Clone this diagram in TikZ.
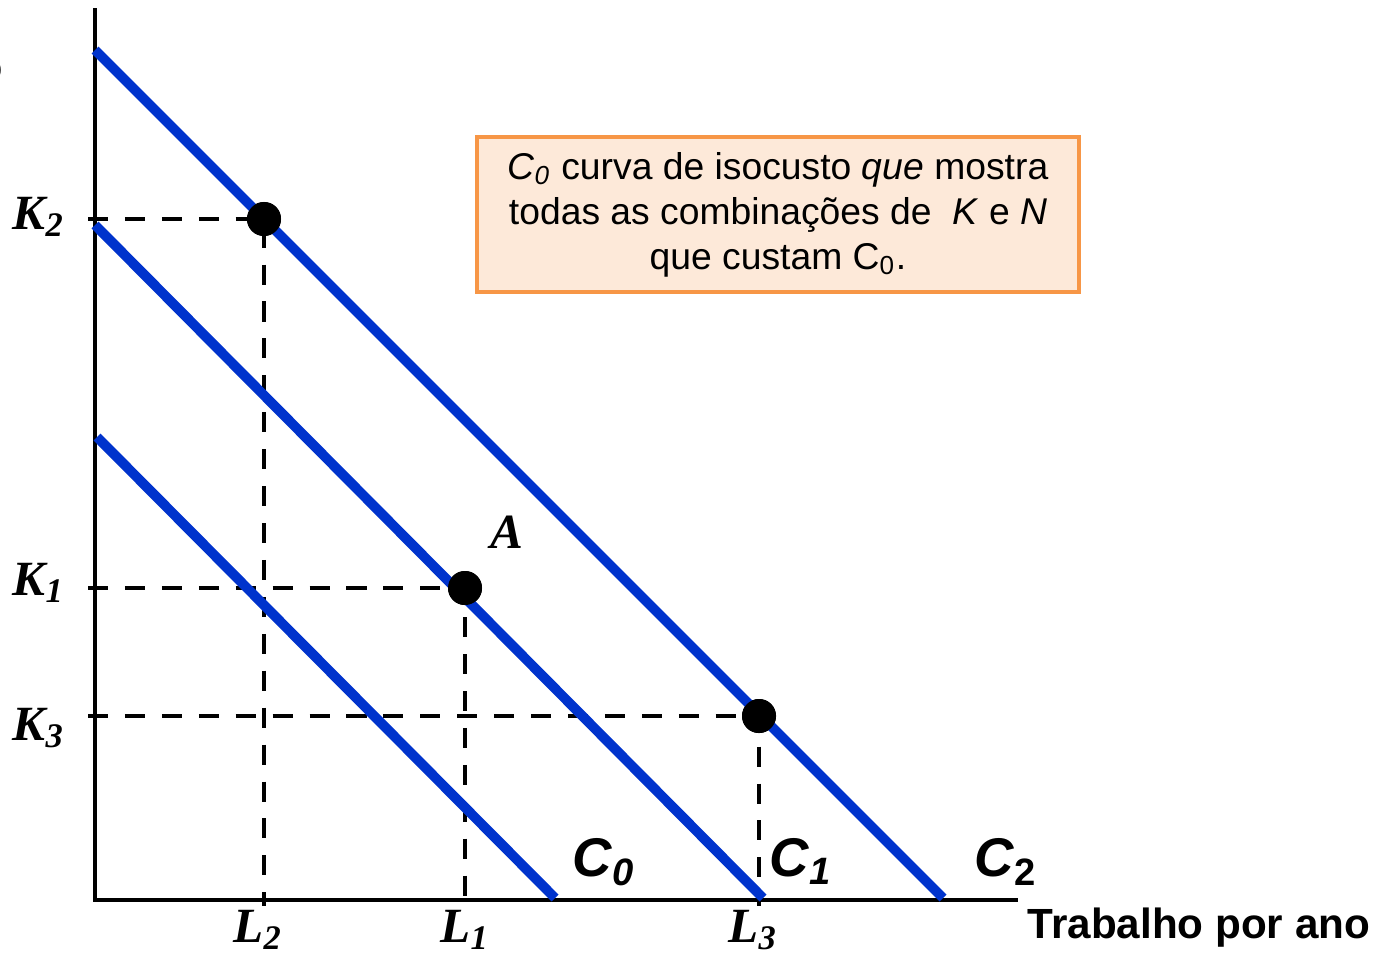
\documentclass[tikz,border=0pt]{standalone}
\usepackage{fontspec}
\setmainfont{Liberation Sans}
\newfontfamily\tms{Liberation Serif}
\definecolor{isoblue}{RGB}{0,51,204}
\definecolor{notefill}{RGB}{253,233,217}
\definecolor{noteline}{RGB}{247,150,70}

\begin{document}
\begin{tikzpicture}[x=0.01cm,y=-0.01cm,
    axis/.style={line width=1.3pt},
    iso/.style={isoblue,line width=2.8pt},
    guide/.style={line width=1.4pt,dash pattern=on 5.7pt off 4.8pt},
    dot/.style={circle,fill=black,inner sep=0pt,minimum size=0.34cm},
    klab/.style={font=\tms\bfseries\itshape\fontsize{14}{14}\selectfont,inner sep=0pt},
    clab/.style={font=\bfseries\itshape\fontsize{15.5}{16}\selectfont,inner sep=0pt}]
    \useasboundingbox (0,0) rectangle (1383,954);

    % axes
    \coordinate (O) at (95,900);
    \coordinate (ytop) at (95,8);
    \coordinate (xend) at (1018,900);
    \coordinate (lbase) at (0,906);
    \draw[axis] (ytop) -- (O) -- (xend);
    \node[anchor=east,inner sep=0pt,font=\bfseries\fontsize{11.8}{14}\selectfont] (ylab) at (4,71) {o};
    \node[anchor=base west,inner sep=0pt,font=\bfseries\fontsize{12}{14}\selectfont] (xlab) at (1027,938) {Trabalho por ano};

    % points and guides
    \node[dot] (P2) at (264,219) {};
    \node[dot] (PA) at (465,588) {};
    \node[dot] (P3) at (759,716) {};
    \coordinate (k2) at (88,219);
    \coordinate (k1) at (88,588);
    \coordinate (k3) at (88,716);
    \draw[guide] (k2) -- (P2.center) -- (P2 |- lbase);
    \draw[guide] (k1) -- (PA.center) -- (PA |- lbase);
    \draw[guide] (k3) -- (P3.center) -- (P3 |- lbase);

    % isocost lines
    \coordinate (c0a) at (97,437);  \coordinate (c0b) at (555,898);
    \coordinate (c1a) at (95,225);  \coordinate (c1b) at (763,898);
    \coordinate (c2a) at (95,50);   \coordinate (c2b) at (943,898);
    \draw[iso] (c0a) -- (c0b);
    \draw[iso] (c1a) -- (c1b);
    \draw[iso] (c2a) -- (c2b);
    \node[dot] at (P2) {};
    \node[dot] at (PA) {};
    \node[dot] at (P3) {};

    % labels
    \node[klab,anchor=base west] (K2) at (12,229) {K\textsubscript{2}};
    \node[klab,anchor=base west] (K1) at (12,595) {K\textsubscript{1}};
    \node[klab,anchor=base west] (K3) at (12,740) {K\textsubscript{3}};
    \node[klab,anchor=base] (L2) at (258,942) {L\textsubscript{2}};
    \node[klab,anchor=base] (L1) at (465,942) {L\textsubscript{1}};
    \node[klab,anchor=base] (L3) at (753,942) {L\textsubscript{3}};
    \node[klab,anchor=base] (A) at (507,548) {A};
    \node[clab,anchor=base west] (C0) at (572,876) {C\textsubscript{0}};
    \node[clab,anchor=base west] (C1) at (769,876) {C\textsubscript{1}};
    \node[clab,anchor=base west] (C2) at (974,876) {C\textsubscript{\upshape 2}};

    % note
    \node[draw=noteline,fill=notefill,line width=1pt,minimum width=6.02cm,minimum height=1.55cm,
      align=center,font=\fontsize{10.6}{12.8}\selectfont] (note) at (778,214.5)
      {{\itshape C\textsubscript{0}} curva de isocusto \textit{que} mostra\\
       todas as combinações de \ \textit{K} e \textit{N}\\
       que custam C\textsubscript{0}.};
\end{tikzpicture}
\end{document}
